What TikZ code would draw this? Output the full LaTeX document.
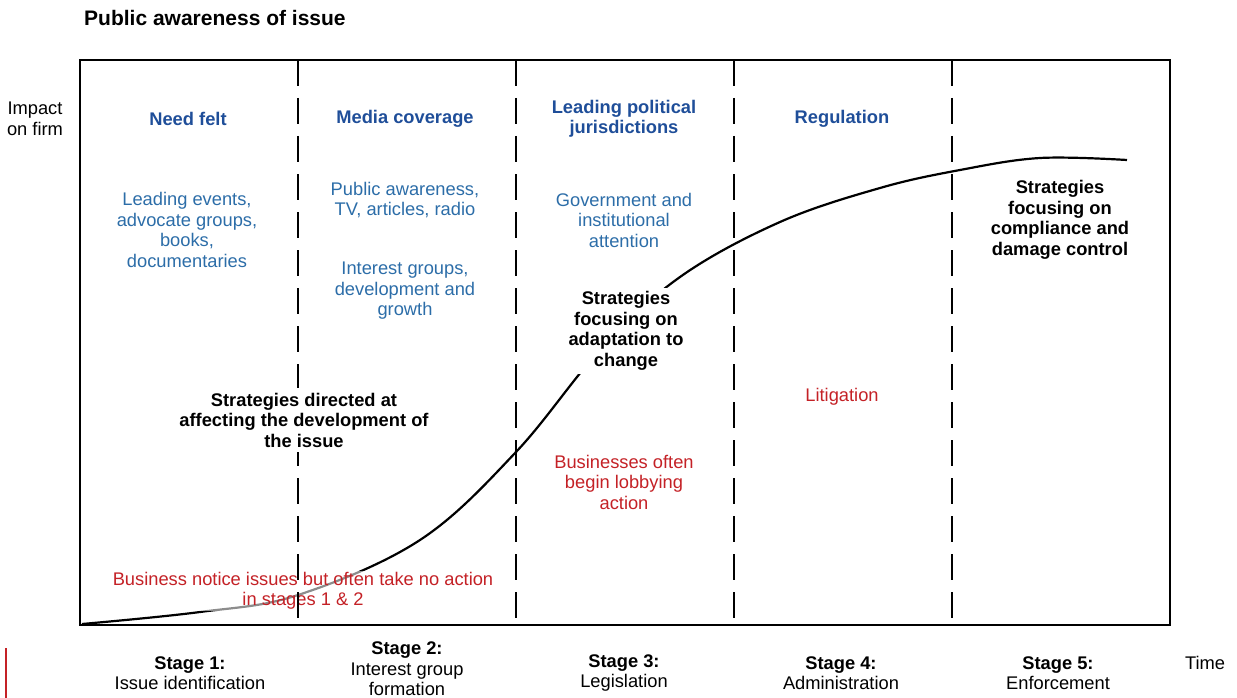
\documentclass[tikz,border=0pt]{standalone}
\usepackage{fontspec}
\setmainfont{Liberation Sans}
\definecolor{headblue}{HTML}{1F4E99}
\definecolor{textblue}{HTML}{2C6DA8}
\definecolor{notered}{HTML}{C42126}

\begin{document}
\begin{tikzpicture}[x=1pt,y=-1pt,
        every node/.style={font=\fontsize{18.3}{20.5}\selectfont, align=center, inner sep=1pt},
        head/.style={text=headblue, font=\fontsize{18.3}{20.5}\selectfont\bfseries},
        info/.style={text=textblue},
        warn/.style={text=notered},
        strat/.style={font=\fontsize{18.3}{20.5}\selectfont\bfseries},
        stagesep/.style={line width=1.6pt, dash pattern=on 26pt off 12pt}]
    \useasboundingbox (0,0) rectangle (1237,698);
    \coordinate (origin) at (80,625);
    \coordinate (topright) at (1170,60);
    % impact curve
    \draw[line width=2.2pt] plot[smooth, tension=0.6] coordinates {(82,624) (200,612) (298,595)
        (420,540) (516,452) (600,350) (680,277) (780,222) (880,188) (960,170)
        (1040,158) (1127,160)};
    \node[warn, fill=white, fill opacity=0.55, text opacity=1] (notice) at (303,591)
        {Business notice issues but often take no action\\in stages 1 \& 2};
    % axes box and stage borders
    \draw[line width=1.8pt] (origin) rectangle (topright);
    \foreach \x in {298,516,734,952}
        \draw[stagesep] (\x,60) -- (\x,625);
    \node[font=\fontsize{21}{24}\selectfont\bfseries, anchor=west] (title) at (83,18) {Public awareness of issue};
    \node (impact) at (35,119) {Impact\\on firm};
    \node (time) at (1205,663) {Time};
    % stage headings
    \node[head] (need) at (188,119) {Need felt};
    \node[head] (media) at (405,119) {Media coverage};
    \node[head] (politics) at (624,119) {Leading political\\jurisdictions};
    \node[head] (regulation) at (842,119) {Regulation};
    % stage contents
    \node[info] (events) at (187,230) {Leading events,\\advocate groups,\\books,\\documentaries};
    \node[info] (awareness) at (405,200) {Public awareness,\\TV, articles, radio};
    \node[info] (groups) at (405,291) {Interest groups,\\development and\\growth};
    \node[info] (government) at (624,220) {Government and\\institutional\\attention};
    \node[strat, fill=white, inner sep=4pt] (adapt) at (626,331) {Strategies\\focusing on\\adaptation to\\change};
    \node[strat] (compliance) at (1060,220) {Strategies\\focusing on\\compliance and\\damage control};
    \node[strat, fill=white, inner sep=5pt] (directed) at (304,420) {Strategies directed at\\affecting the development of\\the issue};
    \node[warn] (litigation) at (842,397) {Litigation};
    \node[warn] (lobbying) at (624,482) {Businesses often\\begin lobbying\\action};
    % stage labels
    \node (stage1) at (190,673) {\textbf{Stage 1:}\\Issue identification};
    \node (stage2) at (407,669) {\textbf{Stage 2:}\\Interest group\\formation};
    \node (stage3) at (624,673) {\textbf{Stage 3:}\\Legislation};
    \node (stage4) at (841,673) {\textbf{Stage 4:}\\Administration};
    \node (stage5) at (1058,673) {\textbf{Stage 5:}\\Enforcement};
    \draw[notered, line width=1.5pt] (6,648) -- (6,698);
\end{tikzpicture}
\end{document}
